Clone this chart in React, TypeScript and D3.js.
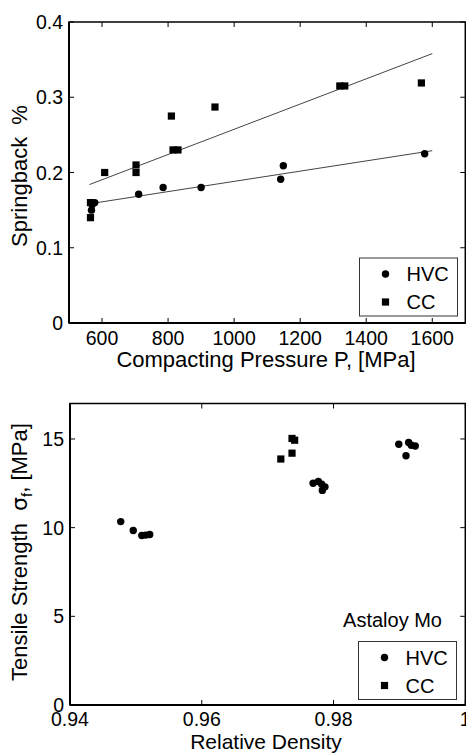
import React from "react";
import * as d3 from "d3";

// ---- Top chart data: Springback vs compacting pressure ----
const hvcPressure = [568, 570, 578, 711, 785, 900, 1141, 1149, 1577];
const hvcSpring = [0.150, 0.157, 0.160, 0.171, 0.180, 0.180, 0.191, 0.209, 0.225];
const ccPressure = [565, 565, 608, 703, 703, 815, 830, 942, 810, 1320, 1335, 1567];
const ccSpring = [0.160, 0.140, 0.200, 0.210, 0.200, 0.230, 0.230, 0.287, 0.275, 0.315, 0.315, 0.319];
const hvcFitP = [585, 1600];
const hvcFitS = [0.160, 0.229];
const ccFitP = [562, 1600];
const ccFitS = [0.184, 0.358];
const topXTicks = [600, 800, 1000, 1200, 1400, 1600];
const topYTicks = [0, 0.1, 0.2, 0.3, 0.4];
const topYLabels = ["0", "0.1", "0.2", "0.3", "0.4"];

// ---- Bottom chart data: Tensile strength vs relative density ----
const hvcDensity = [0.9477, 0.9496, 0.9509, 0.9515, 0.9521, 0.9769, 0.9777, 0.9782, 0.9783, 0.9787, 0.9899, 0.9914, 0.9910, 0.9918, 0.9924];
const hvcStrength = [10.34, 9.84, 9.56, 9.58, 9.61, 12.5, 12.6, 12.45, 12.1, 12.3, 14.7, 14.8, 14.05, 14.65, 14.6];
const ccDensity = [0.9720, 0.9737, 0.9737, 0.9741];
const ccStrength = [13.87, 14.2, 15.03, 14.93];
const botXTicks = [0.94, 0.96, 0.98, 1];
const botXLabels = ["0.94", "0.96", "0.98", "1"];
const botYTicks = [0, 5, 10, 15];

const FONT = "'Liberation Sans', Arial, sans-serif";
const FS = 19.5;
const LFS = 22;

function Circle({ cx, cy }: { cx: number; cy: number }) {
  return <circle cx={cx} cy={cy} r={3.7} fill="#000" />;
}
function Square({ cx, cy }: { cx: number; cy: number }) {
  return <rect x={cx - 3.6} y={cy - 3.6} width={7.2} height={7.2} fill="#000" />;
}

function Frame({ x, y, xTicks, yTicks, xLabels, yLabels, tickLen = 5, xLabOff = 21.5 }: any) {
  const [x0, x1] = x.range();
  const [y0, y1] = y.range();
  return (
    <g>
      {xTicks.map((t: number, i: number) => (
        <g key={"x" + i}>
          <line x1={x(t)} x2={x(t)} y1={y0} y2={y0 - tickLen} stroke="#000" strokeWidth={1} />
          <line x1={x(t)} x2={x(t)} y1={y1} y2={y1 + tickLen} stroke="#000" strokeWidth={1} />
          <text x={x(t)} y={y0 + xLabOff} textAnchor="middle" fontSize={FS} fontFamily={FONT}>{xLabels[i]}</text>
        </g>
      ))}
      {yTicks.map((t: number, i: number) => (
        <g key={"y" + i}>
          <line x1={x0} x2={x0 + tickLen} y1={y(t)} y2={y(t)} stroke="#000" strokeWidth={1} />
          <line x1={x1} x2={x1 - tickLen} y1={y(t)} y2={y(t)} stroke="#000" strokeWidth={1} />
          <text x={x0 - 6} y={y(t) + 7} textAnchor="end" fontSize={FS} fontFamily={FONT}>{yLabels[i]}</text>
        </g>
      ))}
      <rect x={x0} y={y1} width={x1 - x0} height={y0 - y1} fill="none" stroke="#000" strokeWidth={1.5} />
      <line x1={x0} x2={x0} y1={y1} y2={y0} stroke="#000" strokeWidth={2} />
      <line x1={x0} x2={x1} y1={y0} y2={y0} stroke="#000" strokeWidth={2} />
    </g>
  );
}

function Legend({ bx, by }: { bx: number; by: number }) {
  return (
    <g>
      <rect x={bx} y={by} width={98} height={58} fill="#fff" stroke="#333" strokeWidth={1} />
      <Circle cx={bx + 26} cy={by + 16} />
      <text x={bx + 47} y={by + 23} fontSize={FS + 0.5} fontFamily={FONT}>HVC</text>
      <Square cx={bx + 26} cy={by + 44} />
      <text x={bx + 47} y={by + 51} fontSize={FS + 0.5} fontFamily={FONT}>CC</text>
    </g>
  );
}

export default function App() {
  const W = 466, H = 754;
  const xt = d3.scaleLinear().domain([500, 1700]).range([69, 465.3]);
  const yt = d3.scaleLinear().domain([0, 0.4]).range([323, 22]);
  const xb = d3.scaleLinear().domain([0.94, 1]).range([70, 465.3]);
  const yb = d3.scaleLinear().domain([0, 17]).range([705, 403.5]);

  const lineT = d3.line<[number, number]>().x((d) => xt(d[0])).y((d) => yt(d[1]));
  const hvcFit = lineT(hvcFitP.map((p, i) => [p, hvcFitS[i]] as [number, number])) || "";
  const ccFit = lineT(ccFitP.map((p, i) => [p, ccFitS[i]] as [number, number])) || "";

  return (
    <svg width={W} height={H} style={{ position: "absolute", left: 0, top: 0, background: "#fff" }}>
      <rect x={0} y={0} width={W} height={H} fill="#fff" />
      {/* Top chart */}
      <path d={ccFit} stroke="#444" strokeWidth={1} fill="none" />
      <path d={hvcFit} stroke="#444" strokeWidth={1} fill="none" />
      {hvcPressure.map((p, i) => <Circle key={"hc" + i} cx={xt(p)} cy={yt(hvcSpring[i])} />)}
      {ccPressure.map((p, i) => <Square key={"cs" + i} cx={xt(p)} cy={yt(ccSpring[i])} />)}
      <Frame x={xt} y={yt} xTicks={topXTicks} yTicks={topYTicks} xLabels={topXTicks.map(String)} yLabels={topYLabels} />
      <Legend bx={359.5} by={258} />
      <text x={266} y={367} textAnchor="middle" fontSize={LFS} fontFamily={FONT}>Compacting Pressure P, [MPa]</text>
      <text transform={`translate(27,176) rotate(-90)`} textAnchor="middle" fontSize={LFS} fontFamily={FONT} style={{ whiteSpace: "pre" }}>{"Springback  %"}</text>

      {/* Bottom chart */}
      {hvcDensity.map((d, i) => <Circle key={"hb" + i} cx={xb(d)} cy={yb(hvcStrength[i])} />)}
      {ccDensity.map((d, i) => <Square key={"cb" + i} cx={xb(d)} cy={yb(ccStrength[i])} />)}
      <Frame x={xb} y={yb} xTicks={botXTicks} yTicks={botYTicks} xLabels={botXLabels} yLabels={botYTicks.map(String)} xLabOff={20.5} />
      <text x={442} y={627} textAnchor="end" fontSize={FS + 0.5} fontFamily={FONT}>Astaloy Mo</text>
      <Legend bx={358.5} by={641.5} />
      <text x={266} y={749} textAnchor="middle" fontSize={21} fontFamily={FONT}>Relative Density</text>
      <text transform={`translate(27,552) rotate(-90)`} textAnchor="middle" fontSize={LFS} fontFamily={FONT} style={{ whiteSpace: "pre" }}>
        {"Tensile Strength  "}
        <tspan fontFamily="'DejaVu Sans', sans-serif">σ</tspan>
        <tspan fontSize={15} dy={5}>f</tspan>
        <tspan dy={-5}>{", [MPa]"}</tspan>
      </text>
    </svg>
  );
}
